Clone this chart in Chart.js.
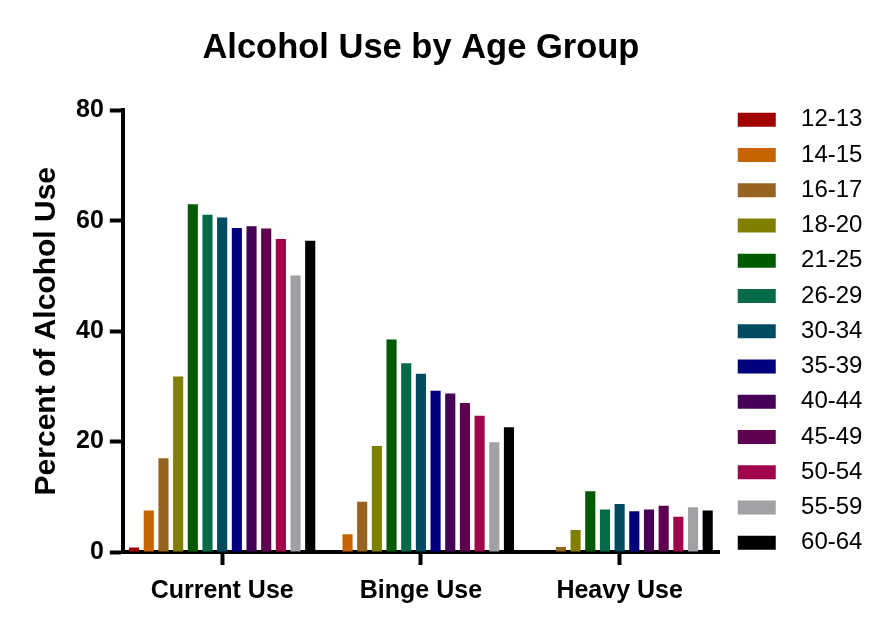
<!DOCTYPE html>
<html>
<head>
<meta charset="utf-8">
<script src="https://cdn.jsdelivr.net/npm/chart.js@4.4.1/dist/chart.umd.min.js"></script>
<style>
  html, body { margin: 0; padding: 0; background: #fff; }
</style>
</head>
<body>
<canvas id="chart" width="895" height="632"></canvas>
<script>
const categories = ['Current Use', 'Binge Use', 'Heavy Use'];
const ageGroups = ['12-13', '14-15', '16-17', '18-20', '21-25', '26-29', '30-34',
                   '35-39', '40-44', '45-49', '50-54', '55-59', '60-64'];
const currentUse = [0.8, 7.5, 17.0, 31.8, 63.0, 61.1, 60.6, 58.7, 59.0, 58.6, 56.7, 50.1, 56.4];
const bingeUse   = [0, 3.2, 9.1, 19.2, 38.5, 34.2, 32.3, 29.2, 28.7, 27.0, 24.7, 19.9, 22.6];
const heavyUse   = [0, 0.1, 0.9, 4.0, 11.0, 7.7, 8.7, 7.4, 7.7, 8.4, 6.4, 8.1, 7.5];
const yTicks = [0, 20, 40, 60, 80];

const colors = ['#a00000', '#c86400', '#966420', '#808000', '#005a00', '#056a46', '#004b5f',
                '#00007f', '#460055', '#5f0050', '#a0054b', '#a0a0a5', '#000000'];

const FONT = 'Arial, "Liberation Sans", Helvetica, sans-serif';

const datasets = ageGroups.map((g, i) => ({
    label: g,
    data: [currentUse[i], bingeUse[i], heavyUse[i]],
    backgroundColor: colors[i],
    borderWidth: 0,
    categoryPercentage: 0.96,
    barPercentage: 0.69
}));

new Chart(document.getElementById('chart'), {
    type: 'bar',
    data: { labels: categories, datasets: datasets },
    options: {
        responsive: false,
        animation: false,
        layout: { padding: { top: 0, right: 29, bottom: 15, left: 29 } },
        plugins: {
            title: {
                display: true,
                fullSize: false,
                text: 'Alcohol Use by Age Group',
                color: '#000',
                font: { family: FONT, size: 34.5, weight: 'bold' },
                padding: { top: 28, bottom: 41 }
            },
            legend: {
                position: 'right',
                align: 'start',
                // empty legend title only used to push the items down
                title: {
                    display: true,
                    text: ' ',
                    font: { family: FONT, size: 24 },
                    padding: { top: 60, bottom: 7.7 }
                },
                labels: {
                    color: '#000',
                    font: { family: FONT, size: 24 },
                    boxWidth: 38,
                    boxHeight: 14,
                    padding: 11.25,
                    generateLabels(chart) {
                        const items = Chart.defaults.plugins.legend.labels.generateLabels(chart);
                        items.forEach(it => { it.text = '  ' + it.text; it.lineWidth = 0; });
                        return items;
                    }
                }
            },
            tooltip: { enabled: false }
        },
        scales: {
            x: {
                grid: {
                    offset: false,
                    drawOnChartArea: false,
                    tickLength: 13,
                    tickWidth: 4,
                    tickColor: '#000'
                },
                border: { color: '#000', width: 4 },
                ticks: {
                    color: '#000',
                    padding: 11,
                    font: { family: FONT, size: 25, weight: 'bold' }
                }
            },
            y: {
                min: 0,
                max: 80,
                afterBuildTicks(scale) { scale.ticks = yTicks.map(v => ({ value: v })); },
                grid: {
                    drawOnChartArea: false,
                    tickLength: 13,
                    tickWidth: 4,
                    tickColor: '#000'
                },
                border: { color: '#000', width: 4 },
                ticks: {
                    color: '#000',
                    padding: 6,
                    font: { family: FONT, size: 25, weight: 'bold' }
                },
                title: {
                    display: true,
                    text: 'Percent of Alcohol Use',
                    color: '#000',
                    font: { family: FONT, size: 30, weight: 'bold' },
                    padding: { top: 0, bottom: 5 }
                }
            },
            // blank axis: just a gap between plot and legend
            gap: {
                type: 'linear',
                position: 'right',
                grid: { display: false },
                border: { display: false },
                ticks: { display: false },
                afterFit(scale) { scale.width = 7.5; }
            }
        }
    }
});
</script>
</body>
</html>
